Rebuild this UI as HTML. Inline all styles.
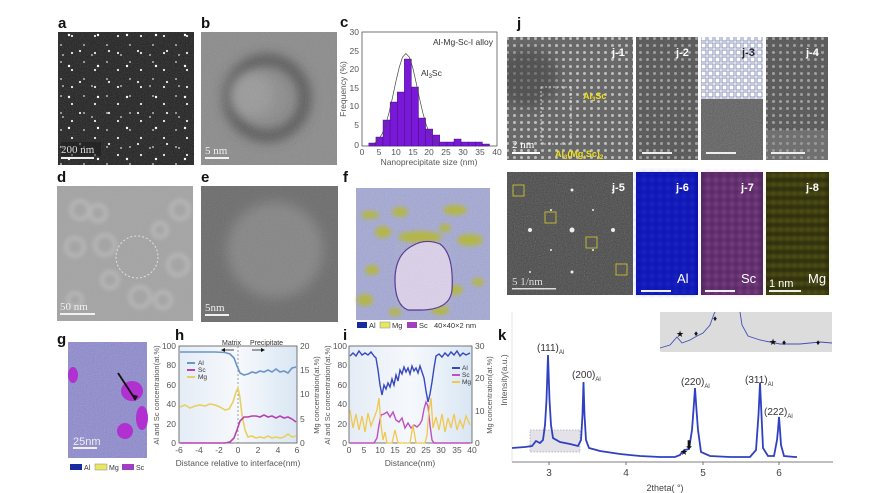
<!DOCTYPE html>
<html><head><meta charset="utf-8"><style>
html,body{margin:0;padding:0;background:#fff;}
svg{display:block;font-family:"Liberation Sans",sans-serif;}
.lt{font-weight:bold;font-size:15px;fill:#111;}
.tk{font-size:8.5px;fill:#555;}
.ax{font-size:8.5px;fill:#555;}
</style></head><body>
<svg width="874" height="493" viewBox="0 0 874 493" xmlns="http://www.w3.org/2000/svg">
<defs>
<filter id="nz" x="0" y="0" width="100%" height="100%"><feTurbulence type="fractalNoise" baseFrequency="0.9" numOctaves="2" seed="3"/><feColorMatrix type="saturate" values="0"/></filter>
<filter id="bl" x="-50%" y="-50%" width="200%" height="200%"><feGaussianBlur stdDeviation="6"/></filter>
<filter id="bl2" x="-20%" y="-20%" width="140%" height="140%"><feGaussianBlur stdDeviation="2"/></filter>
<clipPath id="cj1"><rect x="507" y="37" width="126" height="123"/></clipPath>
<clipPath id="cb"><rect x="201" y="32" width="136" height="133"/></clipPath>
<clipPath id="ce"><rect x="201" y="186" width="137" height="136"/></clipPath>
<pattern id="dots1" width="23" height="17" patternUnits="userSpaceOnUse"><circle cx="3" cy="2" r="1.1" fill="#eee"/><circle cx="15" cy="11" r="0.9" fill="#ddd"/></pattern>
<pattern id="dots2" width="29" height="31" patternUnits="userSpaceOnUse"><circle cx="11" cy="4" r="1.2" fill="#fff"/><circle cx="22" cy="20" r="1.1" fill="#eee"/><circle cx="5" cy="24" r="0.9" fill="#ddd"/></pattern>
<pattern id="lat" width="7" height="7" patternUnits="userSpaceOnUse"><circle cx="3.5" cy="3.5" r="1.5" fill="#e8e8e8"/></pattern>
<pattern id="latB" width="8" height="8" patternUnits="userSpaceOnUse"><circle cx="4" cy="4" r="2.5" fill="#3848ff"/></pattern>
<pattern id="latS" width="8" height="8" patternUnits="userSpaceOnUse"><circle cx="4" cy="4" r="2.2" fill="#e060e0"/></pattern>
<pattern id="latM" width="7" height="9" patternUnits="userSpaceOnUse"><ellipse cx="3.5" cy="4.5" rx="2.2" ry="1.4" fill="#c8c820"/></pattern>
<pattern id="grid3" width="7" height="7" patternUnits="userSpaceOnUse"><rect width="7" height="7" fill="#fff"/><rect x="1" y="1" width="5" height="5" fill="none" stroke="#8890b8" stroke-width="1"/></pattern>
<linearGradient id="hbg" x1="0" x2="1"><stop offset="0" stop-color="#e4ecf6"/><stop offset="0.5" stop-color="#f6f9fc"/><stop offset="1" stop-color="#d9e6f3"/></linearGradient>
</defs>

<!-- a -->
<text class="lt" x="58" y="28">a</text>
<rect x="58" y="32" width="136" height="133" fill="#1e1e1e"/>
<rect x="58" y="32" width="136" height="133" filter="url(#nz)" opacity="0.25"/>
<rect x="58" y="32" width="136" height="133" fill="url(#dots1)"/>
<rect x="58" y="32" width="136" height="133" fill="url(#dots2)"/>
<rect x="61" y="142" width="40" height="14" fill="#1e1e1e" opacity="0.6"/>
<text x="61" y="153" font-family="Liberation Serif" font-size="11" fill="#ddd">200 nm</text>
<rect x="61" y="157" width="33" height="2" fill="#eee"/>

<!-- b -->
<text class="lt" x="201" y="28">b</text>
<rect x="201" y="32" width="136" height="133" fill="#8b8b8b"/>
<g clip-path="url(#cb)">
<circle cx="267" cy="98" r="38" fill="none" stroke="#3f3f3f" stroke-width="9" filter="url(#bl)"/>
<circle cx="252" cy="95" r="22" fill="#9a9a9a" filter="url(#bl)"/>
</g>
<rect x="201" y="32" width="136" height="133" filter="url(#nz)" opacity="0.2"/>
<text x="205" y="154" font-family="Liberation Serif" font-size="11" fill="#f2f2f2">5 nm</text>
<rect x="205" y="157" width="24" height="2" fill="#f2f2f2"/>

<!-- c -->
<text class="lt" x="340" y="27">c</text>
<rect x="362" y="32" width="135" height="114" fill="#fff" stroke="#555" stroke-width="0.8"/>
<g fill="#7a18d8" stroke="#3a0a70" stroke-width="0.4">
<rect x="368.8" y="143" width="7.1" height="3"/>
<rect x="375.9" y="137" width="7.1" height="9"/>
<rect x="383" y="120" width="7.1" height="26"/>
<rect x="390.1" y="102" width="7.1" height="44"/>
<rect x="397.2" y="92" width="7.1" height="54"/>
<rect x="404.3" y="59" width="7.1" height="87"/>
<rect x="411.4" y="87" width="7.1" height="59"/>
<rect x="418.5" y="118" width="7.1" height="28"/>
<rect x="425.6" y="129" width="7.1" height="17"/>
<rect x="432.7" y="135" width="7.1" height="11"/>
<rect x="439.8" y="142" width="7.1" height="4"/>
<rect x="446.9" y="142" width="7.1" height="4"/>
<rect x="454" y="139" width="7.1" height="7"/>
<rect x="461.1" y="142" width="7.1" height="4"/>
<rect x="468.2" y="142" width="7.1" height="4"/>
<rect x="475.3" y="142" width="7.1" height="4"/>
<rect x="482.4" y="144" width="7.1" height="2"/>
</g>
<polyline fill="none" stroke="#444" stroke-width="0.7" points="372.2,144.4 375.5,142.6 378.9,139.2 382.3,133.5 385.7,124.7 389,112.7 392.4,97.9 395.8,81.9 399.2,67.5 402.5,57.2 405.9,53.5 409.3,57.2 412.7,67.5 416,81.9 419.4,97.9 422.8,112.7 426.2,124.7 429.5,133.5 432.9,139.2 436.3,142.6 439.7,144.4"/>
<text x="493" y="45" font-size="8.5" fill="#333" text-anchor="end">Al-Mg-Sc-I alloy</text>
<text x="421" y="76" font-size="8.5" fill="#333">Al<tspan font-size="6" dy="2">3</tspan><tspan dy="-2">Sc</tspan></text>
<g class="tk" text-anchor="end"><text x="359" y="35">30</text><text x="359" y="54">25</text><text x="359" y="72">20</text><text x="359" y="91">15</text><text x="359" y="109">10</text><text x="359" y="128">5</text><text x="359" y="148">0</text></g>
<g class="tk" text-anchor="middle"><text x="362" y="155">0</text><text x="379" y="155">5</text><text x="396" y="155">10</text><text x="413" y="155">15</text><text x="429" y="155">20</text><text x="446" y="155">25</text><text x="463" y="155">30</text><text x="480" y="155">35</text><text x="497" y="155">40</text></g>
<text class="ax" x="429" y="165" text-anchor="middle">Nanoprecipitate size (nm)</text>
<text class="ax" transform="translate(346,89) rotate(-90)" text-anchor="middle">Frequency (%)</text>

<!-- d -->
<text class="lt" x="57" y="182">d</text>
<rect x="57" y="186" width="136" height="135" fill="#a4a4a4"/>
<rect x="57" y="186" width="136" height="135" filter="url(#nz)" opacity="0.12"/>
<g fill="none" stroke="#bcbcbc" stroke-width="4" opacity="0.8" filter="url(#bl2)">
<circle cx="80" cy="210" r="9"/><circle cx="98" cy="213" r="8"/><circle cx="75" cy="247" r="9"/><circle cx="105" cy="245" r="10"/><circle cx="180" cy="210" r="9"/><circle cx="178" cy="265" r="10"/><circle cx="110" cy="280" r="8"/><circle cx="140" cy="297" r="10"/><circle cx="163" cy="300" r="8"/><circle cx="160" cy="230" r="7"/><circle cx="75" cy="300" r="7"/></g>
<circle cx="137" cy="257" r="21" fill="none" stroke="#e0e0e0" stroke-width="1" stroke-dasharray="2,2"/>
<text x="60" y="310" font-family="Liberation Serif" font-size="11" fill="#f0f0f0">50 nm</text>
<rect x="60" y="313" width="35" height="2" fill="#f0f0f0"/>

<!-- e -->
<text class="lt" x="201" y="182">e</text>
<rect x="201" y="186" width="137" height="136" fill="#6c6c6c"/>
<g clip-path="url(#ce)"><circle cx="275" cy="250" r="48" fill="#858585" filter="url(#bl)"/></g>
<rect x="201" y="186" width="137" height="136" filter="url(#nz)" opacity="0.18"/>
<text x="205" y="311" font-family="Liberation Serif" font-size="11" fill="#f0f0f0">5nm</text>
<rect x="205" y="314" width="24" height="2" fill="#f0f0f0"/>

<!-- f -->
<text class="lt" x="343" y="182">f</text>
<rect x="356" y="188" width="134" height="132" fill="#a3a8d6"/>
<rect x="356" y="188" width="134" height="132" filter="url(#nz)" opacity="0.3"/>
<g fill="#b5b83a" opacity="0.9" filter="url(#bl2)">
<ellipse cx="370" cy="215" rx="9" ry="4"/><ellipse cx="400" cy="212" rx="8" ry="5"/><ellipse cx="383" cy="232" rx="8" ry="6"/><ellipse cx="455" cy="210" rx="12" ry="5"/><ellipse cx="470" cy="240" rx="13" ry="6"/><ellipse cx="445" cy="228" rx="6" ry="4"/><ellipse cx="372" cy="270" rx="7" ry="5"/><ellipse cx="365" cy="300" rx="8" ry="6"/><ellipse cx="455" cy="290" rx="8" ry="5"/><ellipse cx="478" cy="282" rx="6" ry="4"/><ellipse cx="420" cy="237" rx="22" ry="6"/><ellipse cx="440" cy="310" rx="9" ry="5"/><ellipse cx="395" cy="312" rx="6" ry="4"/></g>
<path d="M412,246 Q425,238 440,244 Q454,254 452,290 Q450,310 420,310 L408,310 Q395,305 395,280 Q395,255 412,246 Z" fill="#dcd2ec" stroke="#503090" stroke-width="1.2"/>
<path d="M412,246 Q425,238 440,244 Q454,254 452,290 Q450,310 420,310 L408,310 Q395,305 395,280 Q395,255 412,246 Z" filter="url(#nz)" opacity="0.2"/>
<rect x="357" y="322" width="10" height="6" fill="#1a2aa0"/><text x="369" y="328" font-size="7.5" fill="#333">Al</text>
<rect x="380" y="322" width="10" height="6" fill="#e8e860" stroke="#888" stroke-width="0.5"/><text x="392" y="328" font-size="7.5" fill="#333">Mg</text>
<rect x="407" y="322" width="10" height="6" fill="#a040c0"/><text x="419" y="328" font-size="7.5" fill="#333">Sc</text>
<text x="434" y="328" font-size="7.5" fill="#333">40×40×2 nm</text>

<!-- g -->
<text class="lt" x="57" y="344">g</text>
<rect x="68" y="342" width="79" height="116" fill="#8c88d0"/>
<rect x="68" y="342" width="79" height="116" filter="url(#nz)" opacity="0.35"/>
<g fill="#b030d0"><ellipse cx="73" cy="375" rx="5" ry="8"/><ellipse cx="132" cy="391" rx="11" ry="10"/><ellipse cx="142" cy="418" rx="6" ry="12"/><ellipse cx="125" cy="431" rx="8" ry="8"/></g>
<line x1="118" y1="373" x2="135" y2="399" stroke="#111" stroke-width="1.8"/>
<polygon points="135,401 131,394 138,396" fill="#111"/>
<text x="73" y="445" font-size="11" fill="#eee">25nm</text>
<rect x="73" y="447" width="24" height="2" fill="#eee"/>
<rect x="70" y="464" width="12" height="6" fill="#1a2aa0"/><text x="84" y="470" font-size="7" fill="#333">Al</text>
<rect x="95" y="464" width="12" height="6" fill="#e8e860" stroke="#888" stroke-width="0.5"/><text x="109" y="470" font-size="7" fill="#333">Mg</text>
<rect x="122" y="464" width="12" height="6" fill="#a040c0"/><text x="136" y="470" font-size="7" fill="#333">Sc</text>

<!-- h -->
<text class="lt" x="175" y="340">h</text>
<rect x="179" y="346" width="118" height="97" fill="url(#hbg)" stroke="#555" stroke-width="0.8"/>
<line x1="238" y1="346" x2="238" y2="443" stroke="#777" stroke-width="0.7" stroke-dasharray="2,2"/>
<text x="222" y="345" font-size="7" fill="#333">Matrix</text><text x="250" y="345" font-size="7" fill="#333">Precipitate</text>
<path d="M234,350 L222,350 M252,350 L264,350" stroke="#111" stroke-width="0.8"/>
<polygon points="221,350 225,348 225,352" fill="#111"/><polygon points="265,350 261,348 261,352" fill="#111"/>
<polyline fill="none" stroke="#6d94c8" stroke-width="1.6" points="180,352 200,352 215,352 225,352.5 230,354 234,358 237,366 240,373 244,375 248,374 252,372 256,373 260,371 264,372 268,370 272,372 276,369 280,372 284,371 288,373 292,368 296,367"/>
<polyline fill="none" stroke="#e8d060" stroke-width="1.6" points="180,407 185,405 190,408 195,406 200,405 205,406 210,404 215,405 220,407 225,410 229,409 233,402 236,392 238,388 240,398 242,415 245,430 248,437 252,436 256,438 260,437 264,438 268,436 272,438 276,437 280,438 284,437 288,434 292,437 296,436"/>
<polyline fill="none" stroke="#b840b0" stroke-width="1.6" points="180,443 225,443 230,442 234,438 237,430 240,421 244,417 248,417 252,416 256,416 260,417 264,415 268,417 272,416 276,418 280,416 284,418 288,417 292,419 296,422"/>
<g font-size="6.5" fill="#333"><line x1="187" y1="363" x2="195" y2="363" stroke="#6d94c8" stroke-width="2"/><text x="198" y="365">Al</text>
<line x1="187" y1="370" x2="195" y2="370" stroke="#b840b0" stroke-width="2"/><text x="198" y="372">Sc</text>
<line x1="187" y1="377" x2="195" y2="377" stroke="#e8d060" stroke-width="2"/><text x="198" y="379">Mg</text></g>
<g class="tk" text-anchor="end"><text x="176" y="349">100</text><text x="176" y="368">80</text><text x="176" y="388">60</text><text x="176" y="407">40</text><text x="176" y="427">20</text><text x="176" y="446">0</text></g>
<g class="tk"><text x="300" y="349">20</text><text x="300" y="373">15</text><text x="300" y="397">10</text><text x="300" y="422">5</text><text x="300" y="446">0</text></g>
<g class="tk" text-anchor="middle"><text x="179" y="453">-6</text><text x="199" y="453">-4</text><text x="219" y="453">-2</text><text x="238" y="453">0</text><text x="258" y="453">2</text><text x="278" y="453">4</text><text x="297" y="453">6</text></g>
<text class="ax" x="238" y="466" text-anchor="middle">Distance relative to interface(nm)</text>
<text transform="translate(159,395) rotate(-90)" text-anchor="middle" font-size="7.5" fill="#555">Al and Sc concentration(at.%)</text>
<text transform="translate(319,395) rotate(-90)" text-anchor="middle" font-size="7.5" fill="#555">Mg concentration(at.%)</text>

<!-- i -->
<text class="lt" x="343" y="340">i</text>
<rect x="349" y="346" width="123" height="97" fill="url(#hbg)" stroke="#555" stroke-width="0.8"/>
<polyline fill="none" stroke="#3848c0" stroke-width="1.4" points="350,356 353,353 356,356 359,351 362,355 365,353 368,355 371,352 374,356 376,358 378,370 380,385 382,395 384,385 386,389 388,383 390,387 392,379 394,385 396,375 398,381 400,370 402,374 404,367 406,372 408,368 410,374 412,366 414,371 416,368 418,373 420,366 422,372 424,378 426,391 428,402 430,394 432,382 434,368 436,356 439,354 442,357 445,353 448,356 451,352 454,355 457,351 460,356 463,353 466,355 470,353"/>
<polyline fill="none" stroke="#c050c0" stroke-width="1.4" points="350,443 374,443 377,438 379,425 381,415 384,414 387,412 390,417 393,412 396,420 399,422 402,418 405,428 408,423 411,428 414,425 417,427 420,424 422,420 424,409 426,402 428,406 430,425 432,440 434,443 470,443"/>
<polyline fill="none" stroke="#f0c850" stroke-width="1.3" points="350,410 353,428 356,414 359,430 362,416 365,432 368,413 371,426 374,418 377,410 379,398 381,425 383,440 385,432 387,443 392,443 395,430 398,443 410,443 413,425 416,443 425,443 427,435 429,410 431,398 433,428 436,417 439,430 442,414 445,432 448,418 451,428 454,414 457,430 460,420 463,428 466,416 470,425"/>
<g font-size="6.5" fill="#333"><line x1="452" y1="368" x2="460" y2="368" stroke="#3848c0" stroke-width="2"/><text x="462" y="370">Al</text>
<line x1="452" y1="375" x2="460" y2="375" stroke="#c050c0" stroke-width="2"/><text x="462" y="377">Sc</text>
<line x1="452" y1="382" x2="460" y2="382" stroke="#f0c850" stroke-width="2"/><text x="462" y="384">Mg</text></g>
<g class="tk" text-anchor="end"><text x="347" y="349">100</text><text x="347" y="368">80</text><text x="347" y="388">60</text><text x="347" y="407">40</text><text x="347" y="427">20</text><text x="347" y="446">0</text></g>
<g class="tk"><text x="475" y="349">30</text><text x="475" y="381">20</text><text x="475" y="414">10</text><text x="475" y="446">0</text></g>
<g class="tk" text-anchor="middle"><text x="349" y="453">0</text><text x="364" y="453">5</text><text x="380" y="453">10</text><text x="395" y="453">15</text><text x="411" y="453">20</text><text x="426" y="453">25</text><text x="441" y="453">30</text><text x="457" y="453">35</text><text x="472" y="453">40</text></g>
<text class="ax" x="410" y="466" text-anchor="middle">Distance(nm)</text>
<text transform="translate(330,395) rotate(-90)" text-anchor="middle" font-size="7.5" fill="#555">Al and Sc concentration(at.%)</text>
<text transform="translate(492,395) rotate(-90)" text-anchor="middle" font-size="7.5" fill="#555">Mg concentration(at.%)</text>

<!-- k -->
<text class="lt" x="498" y="340">k</text>
<line x1="512" y1="462" x2="833" y2="462" stroke="#555" stroke-width="0.8"/>
<line x1="512" y1="312" x2="512" y2="462" stroke="#ccc" stroke-width="0.5"/>
<g stroke="#555" stroke-width="0.8"><line x1="549" y1="462" x2="549" y2="465"/><line x1="626" y1="462" x2="626" y2="465"/><line x1="703" y1="462" x2="703" y2="465"/><line x1="779" y1="462" x2="779" y2="465"/></g>
<g font-size="10" fill="#444" text-anchor="middle"><text x="549" y="476">3</text><text x="626" y="476">4</text><text x="703" y="476">5</text><text x="779" y="476">6</text></g>
<text x="665" y="491" font-size="9" fill="#444" text-anchor="middle">2theta( °)</text>
<text transform="translate(507,380) rotate(-90)" text-anchor="middle" font-size="8.5" fill="#555">Intensity(a.u.)</text>
<rect x="530" y="430" width="50" height="22" fill="#e2e2e8" stroke="#aaa" stroke-width="0.8" stroke-dasharray="1.5,1.5"/>
<rect x="660" y="312" width="172" height="40" fill="#dcdcdc"/>
<polyline fill="none" stroke="#4050b8" stroke-width="0.9" points="660,348 670,345 677,337 682,343 690,340 697,336 703,333 710,325 714,314 715,312"/>
<polyline fill="none" stroke="#4050b8" stroke-width="0.9" points="740,312 742,325 748,336 760,340 770,342 780,344 800,344 820,342 832,343"/>
<g font-size="9" fill="#111"><text x="676" y="337">★</text><text x="769" y="345">★</text><text x="694" y="336" font-size="8">♦</text><text x="782" y="345" font-size="8">♦</text><text x="816" y="345" font-size="8">♦</text><text x="713" y="321" font-size="8">♦</text></g>
<path fill="none" stroke="#3040c0" stroke-width="1.8" d="M512,448 L525,447 L532,446 L536,441 L540,443 L543,440 L545,425 L546.5,400 L548,355 L549.5,400 L551,425 L553,438 L560,442 L570,444 L578,446 L581,440 L582.5,415 L583.5,382 L584.5,415 L586,440 L589,448 L600,451 L620,454 L640,456 L660,457 L675,457 L680,455 L682,452 L685,450 L689,449 L692,430 L693.5,410 L695,388 L696.5,410 L698,430 L701,452 L710,456 L730,457 L750,457 L756,450 L758.5,415 L760,383 L761.5,415 L763,448 L768,456 L774,456 L777,440 L778,430 L779,417 L780,430 L781,445 L784,456 L795,457 L797,457"/>
<text x="680" y="455" font-size="9" fill="#111">★</text><text x="684" y="449" font-size="12" fill="#111">⬇</text>
<g font-size="10" fill="#333"><text x="537" y="351">(111)<tspan font-size="6" dy="3">Al</tspan></text><text x="572" y="378">(200)<tspan font-size="6" dy="3">Al</tspan></text><text x="681" y="385">(220)<tspan font-size="6" dy="3">Al</tspan></text><text x="745" y="383">(311)<tspan font-size="6" dy="3">Al</tspan></text><text x="764" y="415">(222)<tspan font-size="6" dy="3">Al</tspan></text></g>

<!-- j -->
<text class="lt" x="517" y="28">j</text>
<rect x="507" y="37" width="126" height="123" fill="#606060"/>
<rect x="507" y="37" width="126" height="123" fill="url(#lat)" opacity="0.7"/>
<g clip-path="url(#cj1)"><circle cx="528" cy="78" r="30" fill="#3a3a3a" opacity="0.6" filter="url(#bl)"/></g>
<rect x="507" y="37" width="126" height="123" filter="url(#nz)" opacity="0.2"/>
<rect x="541" y="87" width="30" height="57" fill="none" stroke="#eee" stroke-width="0.8" stroke-dasharray="2,2"/>
<text x="612" y="56" font-size="11" fill="#fff" font-weight="bold">j-1</text>
<text x="583" y="99" font-size="9" font-weight="bold" fill="#f0e020">Al<tspan font-size="6" dy="2">3</tspan><tspan dy="-2">Sc</tspan></text>
<text x="555" y="157" font-size="9" font-weight="bold" fill="#f0e020">Al<tspan font-size="6" dy="2">3</tspan><tspan dy="-2">(Mg,Sc)</tspan><tspan font-size="6" dy="2">2</tspan></text>
<text x="512" y="148" font-family="Liberation Serif" font-size="11" fill="#fff">2 nm</text>
<rect x="512" y="152" width="28" height="2" fill="#fff"/>

<rect x="636" y="37" width="62" height="123" fill="#505050"/>
<rect x="636" y="37" width="62" height="123" fill="url(#lat)" opacity="0.5"/>
<rect x="636" y="37" width="62" height="123" filter="url(#nz)" opacity="0.25"/>
<text x="676" y="56" font-size="11" fill="#fff" font-weight="bold">j-2</text>
<rect x="642" y="152" width="30" height="2" fill="#eee"/>

<rect x="701" y="37" width="62" height="62" fill="url(#grid3)"/>
<rect x="701" y="99" width="62" height="61" fill="#5c5c5c"/>
<rect x="701" y="99" width="62" height="61" filter="url(#nz)" opacity="0.35"/>
<text x="742" y="56" font-size="11" fill="#222" font-weight="bold">j-3</text>
<rect x="706" y="152" width="30" height="2" fill="#eee"/>

<rect x="766" y="37" width="62" height="123" fill="#505050"/>
<rect x="766" y="37" width="62" height="123" fill="url(#lat)" opacity="0.5"/>
<rect x="766" y="130" width="62" height="30" fill="#888" opacity="0.4"/>
<rect x="766" y="37" width="62" height="123" filter="url(#nz)" opacity="0.25"/>
<text x="806" y="56" font-size="11" fill="#fff" font-weight="bold">j-4</text>
<rect x="771" y="152" width="34" height="2" fill="#eee"/>

<rect x="507" y="172" width="126" height="123" fill="#444"/>
<rect x="507" y="172" width="126" height="123" filter="url(#nz)" opacity="0.35"/>
<g fill="#eee"><circle cx="530" cy="230" r="2"/><circle cx="572" cy="230" r="2.5"/><circle cx="613" cy="230" r="2"/><circle cx="572" cy="190" r="1.5"/><circle cx="572" cy="272" r="1.5"/><circle cx="551" cy="210" r="1"/><circle cx="593" cy="210" r="1"/><circle cx="551" cy="250" r="1"/><circle cx="593" cy="250" r="1"/><circle cx="530" cy="272" r="1"/><circle cx="613" cy="190" r="1"/></g>
<g fill="none" stroke="#c8c030" stroke-width="0.9"><rect x="513" y="185" width="11" height="11"/><rect x="545" y="212" width="11" height="11"/><rect x="586" y="237" width="11" height="11"/><rect x="616" y="264" width="11" height="11"/></g>
<text x="612" y="191" font-size="11" fill="#fff" font-weight="bold">j-5</text>
<text x="512" y="285" font-family="Liberation Serif" font-size="11" fill="#ddd">5 1/nm</text>
<rect x="512" y="288" width="44" height="1.5" fill="#ddd"/>

<rect x="636" y="172" width="62" height="123" fill="#0a10a8"/>
<rect x="636" y="172" width="62" height="123" fill="url(#latB)" opacity="0.7" filter="url(#bl2)"/>
<text x="676" y="191" font-size="11" fill="#fff" font-weight="bold">j-6</text>
<text x="677" y="283" font-size="13" fill="#fff">Al</text>
<rect x="641" y="290" width="30" height="2" fill="#eee"/>

<rect x="701" y="172" width="62" height="123" fill="#4a2858"/>
<rect x="701" y="172" width="62" height="123" fill="url(#latS)" opacity="0.8" filter="url(#bl2)"/>
<text x="741" y="191" font-size="11" fill="#fff" font-weight="bold">j-7</text>
<text x="741" y="283" font-size="13" fill="#fff">Sc</text>
<rect x="705" y="290" width="30" height="2" fill="#eee"/>

<rect x="766" y="172" width="63" height="123" fill="#2a2a10"/>
<rect x="766" y="172" width="63" height="123" fill="url(#latM)" opacity="0.8" filter="url(#bl2)"/>
<text x="806" y="191" font-size="11" fill="#fff" font-weight="bold">j-8</text>
<text x="808" y="283" font-size="13" fill="#fff">Mg</text>
<text x="769" y="287" font-size="11" fill="#fff">1 nm</text>
<rect x="769" y="290" width="32" height="2" fill="#eee"/>
</svg>
</body></html>
